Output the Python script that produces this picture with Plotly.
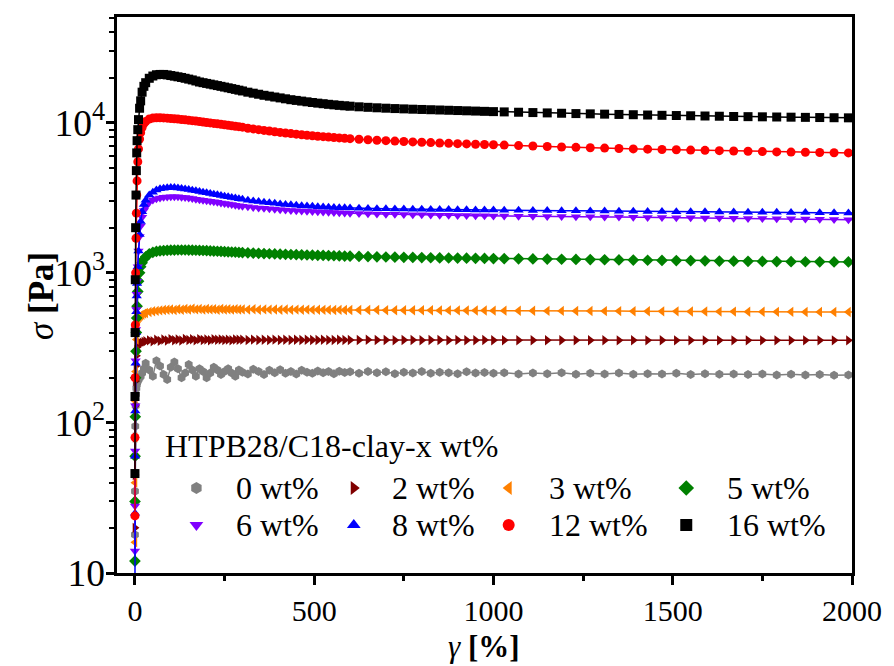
import plotly.graph_objects as go

# ---------------- data ----------------
strain = [0.05, 0.2, 0.5, 1, 2, 3, 4, 5, 6, 8, 10, 13, 16, 20, 25, 30,
          40, 50, 60, 70, 80, 90, 100, 110, 120, 130, 140, 150, 160, 170,
          180, 190, 200, 210, 220, 230, 240, 250, 260, 270, 280, 290, 300,
          315, 330, 345, 360, 375, 390, 405, 420, 435, 450, 465, 480, 495,
          510, 525, 540, 555, 570, 585, 600,
          625, 650, 675, 700, 725, 750, 775, 800, 825, 850, 875, 900, 925,
          950, 975, 1000,
          1030, 1070, 1110, 1150, 1190, 1230, 1270, 1310, 1350, 1390, 1430,
          1470, 1510, 1550, 1590, 1630, 1670, 1710, 1750, 1790, 1830, 1870,
          1910, 1950, 1990, 2030]

labels = ["0 wt%", "2 wt%", "3 wt%", "5 wt%", "6 wt%", "8 wt%", "12 wt%", "16 wt%"]
legend_title = "HTPB28/C18-clay-x wt%"

stress_0 = [18, 35, 60, 95, 130, 155, 170, 180, 185, 190, 195, 200, 205, 215, 230, 250,
            225, 205, 260, 240, 210, 195, 235, 255, 230, 200, 215, 245, 225, 205,
            230, 220, 200, 215, 235, 225, 210, 220, 230, 215, 205, 225, 218,
            212, 228, 220, 210, 224, 216, 226, 214, 220, 212, 224, 218, 214,
            222, 216, 220, 213, 221, 217, 219,
            214, 220, 216, 219, 213, 218, 215, 220, 214, 218, 216, 213, 219,
            215, 217, 214,
            216, 212, 215, 213, 216, 211, 214, 212, 215, 211, 213,
            212, 214, 210, 213, 211, 212, 210, 212, 209, 211, 209,
            210, 208, 209, 209]
stress_2 = [20, 45, 80, 130, 190, 240, 280, 305, 320, 330, 335, 338, 340, 343, 347, 350,
            355, 350, 358, 352, 360, 354, 362, 356, 360, 354, 363, 357, 361, 355,
            362, 357, 360, 356, 361, 358, 360, 357, 359, 356, 360, 358, 359,
            357, 359, 357, 358, 357, 359, 357, 358, 357, 358, 357, 358, 357,
            357, 358, 357, 357, 358, 357, 357,
            357, 358, 357, 357, 356, 357, 357, 356, 357, 357, 356, 357, 356,
            356, 357, 356,
            356, 356, 356, 356, 356, 356, 356, 356, 355, 356, 355,
            356, 355, 355, 355, 355, 355, 355, 355, 355, 355, 355,
            355, 355, 355, 355]
stress_3 = [16, 40, 80, 140, 220, 300, 360, 410, 450, 480, 500, 510, 520, 525, 535, 540,
            548, 555, 558, 562, 565, 568, 570, 566, 572, 568, 575, 570, 576, 571,
            574, 569, 575, 571, 573, 568, 574, 570, 572, 569, 573, 570, 571,
            569, 572, 568, 571, 569, 570, 568, 570, 567, 569, 568, 569, 567,
            568, 567, 567, 566, 567, 566, 566,
            565, 565, 565, 564, 564, 564, 563, 563, 563, 562, 562, 562, 561,
            561, 561, 560,
            560, 559, 559, 558, 558, 557, 557, 556, 556, 555, 555,
            554, 554, 553, 553, 552, 552, 551, 551, 550, 550, 549,
            549, 548, 548, 548]
stress_5 = [12, 30, 60, 110, 200, 300, 400, 500, 600, 750, 880, 1000, 1100, 1170, 1230, 1280,
            1340, 1370, 1390, 1400, 1408, 1413, 1417, 1419, 1420, 1420, 1420, 1419, 1417, 1415,
            1412, 1409, 1405, 1401, 1397, 1393, 1389, 1385, 1381, 1377, 1373, 1369, 1365,
            1360, 1355, 1350, 1345, 1341, 1337, 1333, 1329, 1325, 1321, 1318, 1315, 1312,
            1309, 1306, 1303, 1300, 1297, 1294, 1291,
            1287, 1283, 1279, 1276, 1273, 1270, 1267, 1264, 1261, 1258, 1256, 1254, 1252,
            1250, 1248, 1246,
            1244, 1241, 1238, 1235, 1232, 1229, 1226, 1223, 1220, 1217, 1214,
            1211, 1208, 1205, 1202, 1199, 1196, 1194, 1192, 1190, 1188, 1186,
            1184, 1183, 1182, 1181]
stress_6 = [14, 28, 65, 130, 260, 420, 570, 720, 880, 1100, 1400, 1750, 2050, 2350, 2600, 2750,
            2950, 3060, 3120, 3160, 3190, 3205, 3215, 3215, 3210, 3195, 3175, 3150, 3125, 3100,
            3075, 3050, 3025, 3000, 2975, 2950, 2925, 2900, 2875, 2850, 2825, 2800, 2780,
            2755, 2730, 2710, 2690, 2672, 2655, 2638, 2622, 2608, 2595, 2583, 2571, 2560,
            2550, 2540, 2531, 2522, 2514, 2506, 2498,
            2488, 2479, 2470, 2462, 2455, 2448, 2442, 2436, 2430, 2425, 2420, 2415, 2410,
            2405, 2400, 2396,
            2392, 2387, 2382, 2377, 2372, 2367, 2362, 2357, 2352, 2347, 2342,
            2337, 2332, 2327, 2322, 2317, 2312, 2307, 2302, 2297, 2292, 2286,
            2279, 2270, 2260, 2252]
stress_8 = [8, 25, 60, 120, 250, 400, 550, 700, 850, 1100, 1400, 1800, 2200, 2550, 2850, 3050,
            3300, 3450, 3560, 3630, 3670, 3690, 3700, 3700, 3680, 3650, 3620, 3590, 3555, 3520,
            3485, 3450, 3415, 3380, 3345, 3310, 3275, 3240, 3210, 3180, 3150, 3120, 3090,
            3050, 3015, 2985, 2955, 2930, 2905, 2880, 2860, 2840, 2822, 2805, 2790, 2776,
            2763, 2751, 2740, 2730, 2721, 2713, 2705,
            2695, 2686, 2678, 2671, 2665, 2660, 2655, 2651, 2647, 2643, 2639, 2635, 2631,
            2627, 2623, 2619,
            2615, 2610, 2605, 2600, 2595, 2590, 2585, 2580, 2575, 2570, 2566,
            2562, 2558, 2554, 2550, 2546, 2542, 2538, 2534, 2530, 2526, 2522,
            2518, 2514, 2510, 2507]
stress_12 = [24, 80, 200, 450, 1000, 1700, 2500, 3300, 4100, 5500, 6700, 7800, 8600, 9300, 9900, 10200,
             10600, 10750, 10800, 10800, 10780, 10740, 10690, 10640, 10580, 10520, 10460, 10400, 10330, 10260,
             10190, 10120, 10050, 9980, 9910, 9840, 9770, 9700, 9630, 9560, 9490, 9420, 9350,
             9200, 9100, 9000, 8900, 8810, 8720, 8630, 8550, 8470, 8400, 8330, 8260, 8200,
             8140, 8080, 8030, 7980, 7930, 7880, 7840,
             7770, 7710, 7650, 7600, 7550, 7500, 7460, 7420, 7380, 7340, 7300, 7260, 7230,
             7200, 7170, 7140,
             7100, 7050, 7000, 6950, 6900, 6860, 6820, 6780, 6740, 6700, 6670,
             6640, 6610, 6580, 6550, 6520, 6490, 6460, 6430, 6400, 6380, 6360,
             6340, 6320, 6300, 6280]
stress_16 = [46, 150, 400, 900, 2000, 3300, 4800, 6300, 7600, 9000, 10500, 12500, 14000, 16000, 17500, 18500,
             19800, 20500, 20900, 21000, 21000, 20850, 20650, 20450, 20250, 20050, 19800, 19550, 19300, 19000,
             18700, 18500, 18300, 18100, 17900, 17700, 17500, 17300, 17100, 16900, 16700, 16500, 16300,
             16000, 15750, 15500, 15250, 15050, 14850, 14650, 14450, 14250, 14100, 13950, 13800, 13650,
             13520, 13400, 13280, 13170, 13070, 12980, 12900,
             12780, 12680, 12590, 12510, 12440, 12380, 12320, 12270, 12220, 12170, 12120, 12070, 12020,
             11970, 11920, 11870,
             11820, 11760, 11700, 11640, 11580, 11520, 11470, 11420, 11370, 11320, 11270,
             11220, 11180, 11140, 11100, 11060, 11020, 10990, 10960, 10930, 10900, 10870,
             10840, 10810, 10790, 10770]

series = [stress_0, stress_2, stress_3, stress_5, stress_6, stress_8, stress_12, stress_16]
for s in series:
    assert len(s) == len(strain), (len(s), len(strain))

# ---------------- styles ----------------
colors = ["#808080", "#800000", "#FF8000", "#008000", "#8000FF", "#0000FF", "#FF0000", "#000000"]
symbols = ["hexagon", "triangle-right", "triangle-left", "diamond",
           "triangle-down", "triangle-up", "circle", "square"]
FONT = "Liberation Serif, Times New Roman, serif"

W, H = 894, 666
L, R, T, B = 117, 862, 17, 573


def px2paper_x(px):
    return (px - L) / (R - L)


def px2paper_y(py):
    return (B - py) / (B - T)


fig = go.Figure()
for lab, ys, c, sym in zip(labels, series, colors, symbols):
    fig.add_trace(go.Scatter(
        x=strain, y=ys, mode="lines+markers", name=lab,
        line=dict(color=c, width=1.5),
        marker=dict(symbol=sym, color=c, size=9, line=dict(width=0)),
        showlegend=False,
    ))

# ---------------- manual legend (4 columns x 2 rows) ----------------
col_marker_px = [197.5, 357, 514, 694]
col_text_px = [236, 394, 552.5, 733]
row_px = [488, 525]
annotations = []
for i, (lab, c, sym) in enumerate(zip(labels, colors, symbols)):
    r, k = divmod(i, 4)
    fig.add_trace(go.Scatter(
        x=[px2paper_x(col_marker_px[k])], y=[px2paper_y(row_px[r])],
        xaxis="x2", yaxis="y2", mode="markers", showlegend=False,
        marker=dict(symbol=sym, color=c, size=12, line=dict(width=0)),
        hoverinfo="skip",
    ))
    annotations.append(dict(
        text=lab, xref="paper", yref="paper",
        x=px2paper_x(col_text_px[k]), y=px2paper_y(row_px[r]),
        xanchor="left", yanchor="middle", showarrow=False,
        font=dict(family=FONT, size=32, color="black"),
    ))
annotations.append(dict(
    text=legend_title, xref="paper", yref="paper",
    x=px2paper_x(164), y=px2paper_y(446),
    xanchor="left", yanchor="middle", showarrow=False,
    font=dict(family=FONT, size=32, color="black"),
))
# axis titles
annotations.append(dict(
    text="<i>σ</i> <b>[Pa]</b>", xref="paper", yref="paper",
    x=px2paper_x(40), y=px2paper_y(296), textangle=-90,
    xanchor="center", yanchor="middle", showarrow=False,
    font=dict(family=FONT, size=35, color="black"),
))
annotations.append(dict(
    text="<i>γ</i> <b>[%]</b>", xref="paper", yref="paper",
    x=px2paper_x(489), y=px2paper_y(646),
    xanchor="center", yanchor="middle", showarrow=False,
    font=dict(family=FONT, size=31, color="black"),
))

axis_common = dict(
    showline=True, linewidth=3, linecolor="black", mirror=True,
    showgrid=False, zeroline=False, ticks="outside", tickwidth=2.5,
    tickcolor="black", tickfont=dict(family=FONT, size=30, color="black"),
)

fig.update_layout(
    width=W, height=H,
    margin=dict(l=L, r=W - R, t=T, b=H - B),
    plot_bgcolor="white", paper_bgcolor="white",
    showlegend=False,
    font=dict(family=FONT, color="black"),
    xaxis=dict(range=[-50, 2000], tick0=0, dtick=500, ticklen=9,
               minor=dict(dtick=250, ticks="outside", ticklen=5, tickwidth=2.5,
                          tickcolor="black", showgrid=False),
               **axis_common),
    yaxis=dict(type="log", range=[1, 4.705], dtick=1, exponentformat="power",
               ticklen=8, ticklabelstandoff=-5,
               minor=dict(dtick="D1", ticks="outside", ticklen=5, tickwidth=2,
                          tickcolor="black", showgrid=False),
               **axis_common),
    xaxis2=dict(overlaying="x", range=[0, 1], visible=False, fixedrange=True),
    yaxis2=dict(overlaying="y", range=[0, 1], visible=False, fixedrange=True),
    annotations=annotations,
)

fig.write_html(
    "out.html",
    config={"displayModeBar": False},
    post_script="document.body.style.margin='0px';document.body.style.padding='0px';",
)
